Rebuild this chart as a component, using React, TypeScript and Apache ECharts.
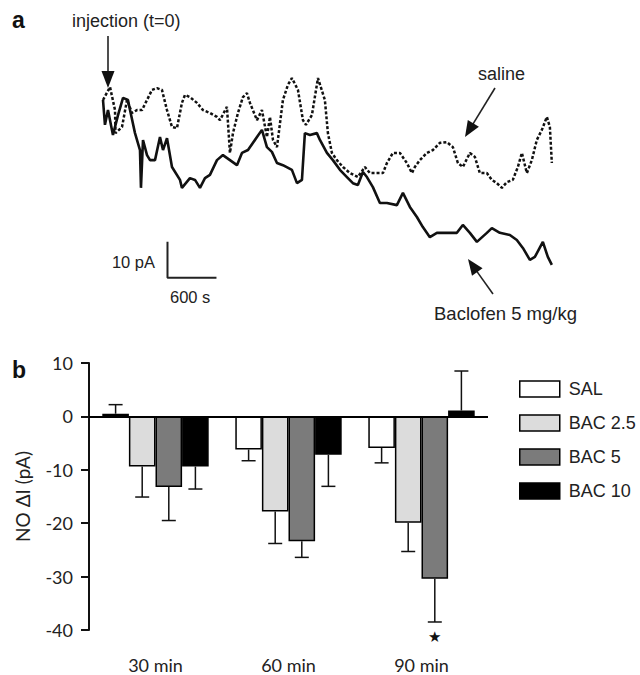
import React, { useEffect, useRef } from "react";
import * as echarts from "echarts";

// ---------- Panel a: current traces (time in s, current in pA relative to t=0) ----------
const salineT = [0, 86, 147, 153, 233, 294, 355, 416, 478, 539, 600, 661, 722, 784, 845, 906, 967, 1004, 1065, 1151, 1225, 1310, 1396, 1433, 1518, 1555, 1592, 1653, 1714, 1763, 1800, 1886, 1947, 2008, 2045, 2082, 2131, 2204, 2265, 2314, 2388, 2449, 2486, 2559, 2633, 2718, 2755, 2804, 2865, 2939, 3025, 3122, 3208, 3269, 3355, 3429, 3478, 3551, 3637, 3722, 3784, 3820, 3882, 3967, 4041, 4127, 4212, 4286, 4347, 4408, 4494, 4555, 4616, 4702, 4763, 4825, 4886, 4947, 5020, 5082, 5131, 5192, 5253, 5314, 5376, 5437, 5474, 5498];
const salineI = [0, 3.6, -2.8, -9.2, -7.5, 0, -3.6, -2.8, -2.8, 0, 2.8, 3.3, 2.8, -2.8, -7.5, -7.8, -0.8, 1.4, 0.8, -0.8, -2.8, -3.6, -4.7, -5.6, -1.9, -14.7, -9.2, -3.6, 0.8, 1.9, -0.8, -5.6, -2.8, -10.3, -4.7, -11.1, -13.1, 0, 4.2, 6.1, 2.8, -5.6, -6.9, -4.2, 6.1, 0, -9.2, -14.7, -16.7, -18.6, -20.3, -21.4, -18.6, -20.3, -20.3, -20.3, -17.5, -14.7, -14.7, -17.5, -20.3, -18.6, -16.7, -14.7, -13.9, -11.9, -11.7, -13.1, -17.5, -18.6, -14.7, -15.8, -20.3, -20.3, -22.2, -23.1, -24.4, -22.8, -22.2, -18.6, -14.7, -20.3, -16.7, -11.1, -8.3, -4.7, -7.5, -17.5];

const baclofenT = [0, 24, 61, 122, 184, 245, 306, 331, 392, 453, 465, 490, 539, 576, 637, 698, 735, 784, 845, 943, 967, 1065, 1127, 1188, 1249, 1310, 1396, 1469, 1555, 1641, 1702, 1776, 1886, 1947, 2008, 2069, 2131, 2204, 2314, 2376, 2437, 2473, 2535, 2620, 2657, 2743, 2816, 2902, 2988, 3061, 3122, 3184, 3233, 3306, 3392, 3478, 3600, 3674, 3759, 3845, 3918, 4004, 4090, 4212, 4335, 4408, 4494, 4580, 4702, 4763, 4861, 4984, 5069, 5143, 5229, 5290, 5388, 5449, 5498];
const baclofenI = [0, -6.9, -2.8, -9.7, -4.2, 0.6, 0, -2.8, -9.2, -13.9, -24.4, -11.1, -15.3, -16.7, -16.7, -10.3, -13.9, -10.6, -18.6, -22.2, -24.4, -21.7, -22.2, -24.4, -21.7, -20.8, -16.7, -15.3, -16.7, -18.1, -14.7, -13.9, -10.3, -8.3, -13.1, -14.4, -17.5, -18.1, -19.4, -23.1, -22.2, -9.2, -9.7, -9.2, -11.1, -14.7, -16.7, -19.4, -21.4, -23.1, -23.6, -20.0, -21.4, -24.2, -28.6, -28.6, -29.2, -25.8, -29.7, -32.5, -35.3, -38.1, -36.9, -36.9, -36.9, -34.7, -36.9, -39.4, -36.9, -35.6, -36.9, -37.5, -38.9, -41.1, -44.4, -43.6, -39.4, -43.6, -45.8];

// scale bar: 10 pA, 600 s
const scaleBarT = [790, 790, 1390];
const scaleBarI = [-39.4, -49.4, -49.4];

// ---------- Panel b: bar chart ----------
const categories = ["30 min", "60 min", "90 min"];
const groups = ["SAL", "BAC 2.5", "BAC 5", "BAC 10"];
const salMean = [0.5, -6.2, -5.9];
const salSem = [1.7, 2.1, 2.8];
const bac25Mean = [-9.4, -17.8, -19.9];
const bac25Sem = [5.7, 6.0, 5.4];
const bac5Mean = [-13.2, -23.4, -30.4];
const bac5Sem = [6.3, 3.0, 8.1];
const bac5Sig = [false, false, true];
const bac10Mean = [-9.4, -7.2, 1.1];
const bac10Sem = [4.2, 5.9, 7.4];
const yTicks = [-40, -30, -20, -10, 0, 10];

const groupColors = ["#ffffff", "#dcdcdc", "#7b7b7b", "#000000"];

const SANS = '"Liberation Sans", Arial, sans-serif';
const HUM = 'Lato, "Open Sans", sans-serif';

function arrow(tx: number, ty: number, hx: number, hy: number, headLen = 16, headW = 13) {
  const dx = hx - tx;
  const dy = hy - ty;
  const len = Math.sqrt(dx * dx + dy * dy);
  const ux = dx / len;
  const uy = dy / len;
  const bx = hx - ux * headLen;
  const by = hy - uy * headLen;
  const px = -uy;
  const py = ux;
  return [
    {
      type: "line",
      shape: { x1: tx, y1: ty, x2: bx + ux * 2, y2: by + uy * 2 },
      style: { stroke: "#222", lineWidth: 1.6 },
    },
    {
      type: "polygon",
      shape: {
        points: [
          [hx, hy],
          [bx + (px * headW) / 2, by + (py * headW) / 2],
          [bx - (px * headW) / 2, by - (py * headW) / 2],
        ],
      },
      style: { fill: "#111" },
    },
  ];
}

function txt(text: string, x: number, y: number, size: number, opts: any = {}) {
  return {
    type: "text",
    x,
    y,
    style: {
      text,
      fontSize: size,
      fontFamily: opts.family || SANS,
      fontWeight: opts.weight || "normal",
      fill: opts.fill || "#222",
      align: opts.align || "left",
      verticalAlign: "middle",
    },
  };
}

export default function App() {
  const ref = useRef<HTMLDivElement>(null);

  useEffect(() => {
    document.body.style.margin = "0";
    if (!ref.current) return;
    const chart = echarts.init(ref.current, undefined, { renderer: "svg" });

    const salineData = salineT.map((t, i) => [t, salineI[i]]);
    const baclofenData = baclofenT.map((t, i) => [t, baclofenI[i]]);
    const scaleData = scaleBarT.map((t, i) => [t, scaleBarI[i]]);

    const means = [salMean, bac25Mean, bac5Mean, bac10Mean];
    const sems = [salSem, bac25Sem, bac5Sem, bac10Sem];
    const sigs = [null, null, bac5Sig, null];

    const barSeries = groups.map((g, k) => ({
      name: g,
      type: "bar",
      xAxisIndex: 1,
      yAxisIndex: 1,
      data: means[k],
      barGap: "0%",
      barCategoryGap: "20%",
      itemStyle: { color: groupColors[k], borderColor: "#000", borderWidth: 1.5 },
      z: 2,
      ...(k === 0
        ? {
            markLine: {
              silent: true,
              symbol: "none",
              label: { show: false },
              lineStyle: { color: "#000", width: 2, type: "solid" },
              data: [{ yAxis: 0 }],
              z: 5,
            },
          }
        : {}),
    }));

    const errSeries = groups.map((g, k) => ({
      type: "custom",
      xAxisIndex: 1,
      yAxisIndex: 1,
      z: 4,
      silent: true,
      data: categories.map((c, i) => [i, means[k][i], sems[k][i], sigs[k] && sigs[k]![i] ? 1 : 0]),
      encode: { x: 0, y: 1 },
      renderItem: (params: any, api: any) => {
        const idx = api.value(0);
        const mean = api.value(1);
        const sem = api.value(2);
        const sig = api.value(3);
        const band = api.size([1, 0])[0];
        const barW = (band * 0.8) / 4;
        const cx = api.coord([idx, 0])[0] + (k - 1.5) * barW;
        const dir = mean >= 0 ? 1 : -1;
        const y0 = api.coord([idx, mean])[1];
        const y1 = api.coord([idx, mean + dir * sem])[1];
        const children: any[] = [
          { type: "line", shape: { x1: cx, y1: y0, x2: cx, y2: y1 }, style: { stroke: "#111", lineWidth: 1.5 } },
          { type: "line", shape: { x1: cx - 7, y1: y1, x2: cx + 7, y2: y1 }, style: { stroke: "#111", lineWidth: 1.5 } },
        ];
        if (sig) {
          children.push({
            type: "text",
            x: cx,
            y: y1 + 15,
            style: { text: "★", fontSize: 15, fill: "#111", align: "center", verticalAlign: "middle", fontFamily: "DejaVu Sans" },
          });
        }
        return { type: "group", children };
      },
    }));

    const graphics: any[] = [
      txt("a", 12, 20, 23, { weight: "bold", fill: "#111" }),
      txt("injection (t=0)", 72, 21, 18),
      ...arrow(108, 36, 108, 88, 17, 13),
      txt("saline", 478, 74, 18),
      ...arrow(495, 88, 465, 137, 16, 13),
      txt("Baclofen 5 mg/kg", 434, 313, 18.5),
      ...arrow(493, 294, 468, 259, 16, 13),
      txt("10 pA", 155, 262, 16.5, { align: "right" }),
      txt("600 s", 170, 297, 16.5),
      txt("b", 12, 370, 23, { weight: "bold", fill: "#111" }),
    ];

    chart.setOption({
      animation: false,
      backgroundColor: "#ffffff",
      grid: [
        { left: 103, right: 88, top: 64, bottom: 377 },
        { left: 89, right: 152, top: 363, bottom: 45 },
      ],
      xAxis: [
        { gridIndex: 0, type: "value", min: 0, max: 5500, show: false },
        {
          gridIndex: 1,
          type: "category",
          data: categories,
          axisLine: { show: false, onZero: false },
          axisTick: { show: false },
          axisLabel: { margin: 26, fontSize: 18, fontFamily: HUM, color: "#222" },
        },
      ],
      yAxis: [
        { gridIndex: 0, type: "value", min: -55, max: 10, show: false },
        {
          gridIndex: 1,
          type: "value",
          min: yTicks[0],
          max: yTicks[yTicks.length - 1],
          interval: 10,
          name: "NO ΔI (pA)",
          nameLocation: "middle",
          nameGap: 57,
          nameTextStyle: { fontSize: 19, fontFamily: HUM, color: "#222" },
          axisLine: { show: true, lineStyle: { color: "#111", width: 2 } },
          axisTick: { show: true, length: 8, lineStyle: { color: "#111", width: 2 } },
          axisLabel: { margin: 16, fontSize: 18, fontFamily: HUM, color: "#222" },
          splitLine: { show: false },
        },
      ],
      legend: {
        data: groups,
        orient: "vertical",
        left: 514,
        top: 375,
        itemWidth: 40,
        itemHeight: 16,
        itemGap: 16,
        icon: "rect",
        itemStyle: { borderColor: "#000", borderWidth: 1.5 },
        textStyle: { fontSize: 18, fontFamily: SANS, color: "#222", padding: [0, 0, 0, 4] },
        selectedMode: false,
      },
      series: [
        {
          type: "line",
          xAxisIndex: 0,
          yAxisIndex: 0,
          data: salineData,
          showSymbol: false,
          symbol: "none",
          lineStyle: { color: "#111", width: 2.5, type: [3, 2] },
          z: 3,
        },
        {
          type: "line",
          xAxisIndex: 0,
          yAxisIndex: 0,
          data: baclofenData,
          showSymbol: false,
          symbol: "none",
          lineStyle: { color: "#111", width: 2.6 },
          z: 2,
        },
        {
          type: "line",
          xAxisIndex: 0,
          yAxisIndex: 0,
          data: scaleData,
          showSymbol: false,
          symbol: "none",
          lineStyle: { color: "#222", width: 2 },
        },
        ...barSeries,
        ...errSeries,
      ],
      graphic: graphics,
    });

    return () => chart.dispose();
  }, []);

  return <div ref={ref} style={{ width: 640, height: 675 }} />;
}
